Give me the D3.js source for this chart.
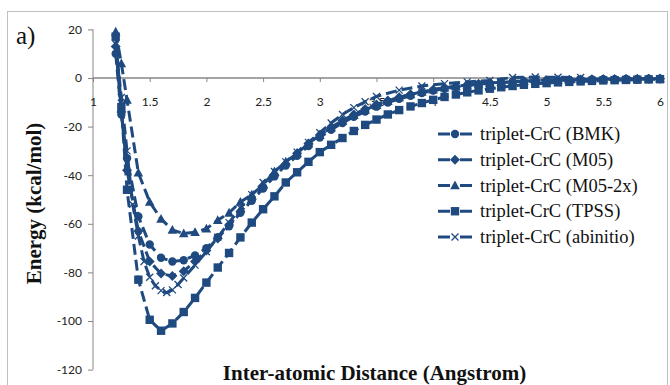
<!DOCTYPE html>
<html>
<head>
<meta charset="utf-8">
<script src="https://cdn.jsdelivr.net/npm/d3@7/dist/d3.min.js"></script>
<style>
  html, body { margin: 0; padding: 0; background: #fff; }
  svg { display: block; }
</style>
</head>
<body>
<svg id="chart" width="670" height="385"></svg>
<script>
// Inter-atomic distance grid (Angstrom) used by the DFT curves
const distance = [1.2, 1.25, 1.3, 1.4, 1.5, 1.6, 1.7, 1.8, 1.9, 2.0,
  2.1, 2.2, 2.3, 2.4, 2.5, 2.6, 2.7, 2.8, 2.9, 3.0,
  3.1, 3.2, 3.3, 3.4, 3.5, 3.6, 3.7, 3.8, 3.9, 4.0,
  4.1, 4.2, 4.3, 4.4, 4.5, 4.6, 4.7, 4.8, 4.9, 5.0,
  5.1, 5.2, 5.3, 5.4, 5.5, 5.6, 5.7, 5.8, 5.9, 6.0];

// Energies in kcal/mol
const bmk = [10, -15, -33, -57, -68.5, -74, -75.5, -75, -73, -70,
  -65.5, -61, -55.5, -50.5, -45.5, -40.5, -36, -32, -28, -24.5,
  -21.3, -18.5, -16, -13.8, -11.8, -10.1, -8.6, -7.3, -6.2, -5.2,
  -4.4, -3.7, -3.1, -2.6, -2.2, -1.9, -1.6, -1.4, -1.2, -1.0,
  -0.9, -0.8, -0.7, -0.6, -0.5, -0.5, -0.4, -0.4, -0.3, -0.3];

const m05 = [13, -14, -38, -63, -75.5, -80.5, -81.5, -79.5, -75.5, -71,
  -66, -60.5, -55, -50, -45, -40, -35.5, -31, -27, -23.5,
  -20.3, -17.5, -15, -12.8, -10.9, -9.3, -7.9, -6.7, -5.7, -4.8,
  -4.1, -3.5, -3, -2.5, -2.1, -1.8, -1.5, -1.3, -1.1, -1.0,
  -0.9, -0.8, -0.7, -0.6, -0.5, -0.5, -0.4, -0.4, -0.3, -0.3];

const m052x = [19, 6, -9, -39, -51, -58, -62.5, -64, -63.5, -62,
  -58.5, -55.5, -51, -48, -44, -38.5, -34.5, -31, -27, -23.5,
  -20.5, -17.8, -15.3, -13.1, -11.2, -9.5, -8, -6.8, -5.7, -4.8,
  -4, -3.4, -2.8, -2.4, -2, -1.7, -1.4, -1.2, -1, -0.9,
  -0.8, -0.7, -0.6, -0.5, -0.5, -0.4, -0.4, -0.3, -0.3, -0.2];

const tpss = [17, -12, -46, -83, -99.5, -104, -101, -96.3, -90.5, -84.2,
  -78, -72, -65.6, -59.5, -54, -48.7, -43, -38.8, -34.5, -30.5,
  -27.5, -24.7, -21.8, -19.3, -17.1, -15, -13.2, -11.7, -10.3, -9,
  -7.8, -6.8, -5.9, -5.1, -4.4, -3.8, -3.3, -2.8, -2.4, -2.1,
  -1.8, -1.6, -1.4, -1.2, -1.0, -0.9, -0.8, -0.7, -0.6, -0.5];

// Ab initio curve has its own distance grid
const abDistance = [1.2, 1.25, 1.3, 1.35, 1.4, 1.45, 1.5, 1.55, 1.6, 1.65,
  1.7, 1.75, 1.8, 1.9, 2.0, 2.1, 2.2, 2.3, 2.4, 2.5,
  2.6, 2.7, 2.8, 2.9, 3.0, 3.1, 3.2, 3.3, 3.4, 3.5,
  3.7, 3.9, 4.1, 4.3, 4.5, 4.7, 4.9, 5.1, 5.3];
const abinitio = [14, -8, -30, -52, -65, -75.5, -82, -85.5, -87.5, -88.3,
  -87.2, -85, -82.3, -77, -71.5, -65.5, -59.5, -53.5, -48, -43,
  -38.5, -34.5, -30.5, -26.5, -22.5, -18.5, -15, -12.2, -9.8, -7.6,
  -5, -3.3, -2.3, -1.6, -1, 0.2, 0.4, 0.3, 0.2];

const seriesNames = ["triplet-CrC (BMK)", "triplet-CrC (M05)", "triplet-CrC (M05-2x)",
  "triplet-CrC (TPSS)", "triplet-CrC (abinitio)"];
const markerKinds = ["circle", "diamond", "triangle", "square", "cross"];

const xTicks = [1, 1.5, 2, 2.5, 3, 3.5, 4, 4.5, 5, 5.5, 6];
const yTicks = [20, 0, -20, -40, -60, -80, -100, -120];

const series = [
  { name: seriesNames[0], marker: markerKinds[0], xs: distance, ys: bmk },
  { name: seriesNames[1], marker: markerKinds[1], xs: distance, ys: m05 },
  { name: seriesNames[2], marker: markerKinds[2], xs: distance, ys: m052x },
  { name: seriesNames[3], marker: markerKinds[3], xs: distance, ys: tpss },
  { name: seriesNames[4], marker: markerKinds[4], xs: abDistance, ys: abinitio }
];

const BLUE = "#1f4a80";
const AXIS = "#868686";
const SERIF = "'Liberation Serif', 'Times New Roman', serif";
const SANS = "Lato, 'Open Sans', sans-serif";

const svg = d3.select("#chart");
svg.append("rect").attr("width", 670).attr("height", 385).attr("fill", "#fff");

// chart frame
svg.append("rect")
  .attr("x", 7.5).attr("y", 11.5)
  .attr("width", 660).attr("height", 390)
  .attr("fill", "none").attr("stroke", "#bfbfbf").attr("stroke-width", 1);

const x = d3.scaleLinear().domain([1, 6]).range([93, 660]);
const y = d3.scaleLinear().domain([-120, 20]).range([369.6, 29.4]);

// y axis
const yAxis = svg.append("g")
  .attr("transform", `translate(${x(1)},0)`)
  .call(d3.axisLeft(y).tickValues(yTicks).tickSize(5).tickPadding(6)
    .tickFormat(d => String(d)));
yAxis.select(".domain").attr("stroke", AXIS).attr("d", `M0,${y(20)}V${y(-120)}`);
yAxis.selectAll(".tick line").attr("stroke", AXIS);
yAxis.selectAll(".tick text")
  .attr("font-family", SANS).attr("font-size", 12).attr("fill", "#222");

// x axis through y = 0
const xAxis = svg.append("g")
  .attr("transform", `translate(0,${y(0)})`)
  .call(d3.axisBottom(x).tickValues(xTicks).tickSize(4).tickPadding(15)
    .tickFormat(d => String(d)));
xAxis.select(".domain").attr("stroke", AXIS).attr("stroke-width", 1.5)
  .attr("d", `M${x(1)},0H${x(6)}`);
xAxis.selectAll(".tick line").attr("stroke", AXIS);
xAxis.selectAll(".tick text")
  .attr("font-family", SANS).attr("font-size", 12).attr("fill", "#222");

// marker drawing
function drawMarker(sel, kind) {
  if (kind === "circle") {
    sel.append("circle").attr("r", 4.2).attr("fill", BLUE);
  } else if (kind === "square") {
    sel.append("rect").attr("x", -4.2).attr("y", -4.2).attr("width", 8.4).attr("height", 8.4)
      .attr("fill", BLUE);
  } else if (kind === "diamond") {
    sel.append("path").attr("d", "M0,-5L5,0L0,5L-5,0Z").attr("fill", BLUE);
  } else if (kind === "triangle") {
    sel.append("path").attr("d", "M0,-5L4.8,3.8L-4.8,3.8Z").attr("fill", BLUE);
  } else if (kind === "cross") {
    sel.append("path").attr("d", "M-3.5,-3.5L3.5,3.5M-3.5,3.5L3.5,-3.5")
      .attr("stroke", BLUE).attr("stroke-width", 1.3).attr("fill", "none");
  }
}

const line = d3.line().x(d => x(d[0])).y(d => y(d[1]));

const plot = svg.append("g");
series.forEach(s => {
  const pts = s.xs.map((d, i) => [d, s.ys[i]]);
  const g = plot.append("g");
  g.append("path").datum(pts)
    .attr("d", line)
    .attr("fill", "none").attr("stroke", BLUE).attr("stroke-width", 3)
    .attr("stroke-dasharray", "11,5");
  g.selectAll("g.pt").data(pts).enter().append("g")
    .attr("class", "pt")
    .attr("transform", d => `translate(${x(d[0])},${y(d[1])})`)
    .each(function () { drawMarker(d3.select(this), s.marker); });
});

// legend
const legend = svg.append("g");
const legendY = d3.scalePoint().domain(seriesNames).range([134, 237]);
series.forEach(s => {
  const row = legend.append("g").attr("transform", `translate(0,${legendY(s.name)})`);
  row.append("line").attr("x1", 438).attr("x2", 450).attr("y1", 0).attr("y2", 0)
    .attr("stroke", BLUE).attr("stroke-width", 3);
  row.append("line").attr("x1", 460).attr("x2", 472).attr("y1", 0).attr("y2", 0)
    .attr("stroke", BLUE).attr("stroke-width", 3);
  const m = row.append("g").attr("transform", "translate(455,0)");
  drawMarker(m, s.marker);
  row.append("text").attr("x", 480).attr("y", 6)
    .attr("font-family", SERIF).attr("font-size", 18.5).attr("fill", "#111")
    .text(s.name);
});

// axis titles
svg.append("text")
  .attr("transform", `translate(41,${(y(20) + y(-120)) / 2 + 4}) rotate(-90)`)
  .attr("text-anchor", "middle")
  .attr("font-family", SERIF)
  .attr("font-weight", "bold").attr("font-size", 21).attr("fill", "#111")
  .text("Energy (kcal/mol)");

svg.append("text")
  .attr("x", (x(1) + x(6)) / 2 - 2).attr("y", 380)
  .attr("text-anchor", "middle")
  .attr("font-family", SERIF)
  .attr("font-weight", "bold").attr("font-size", 21).attr("fill", "#111")
  .text("Inter-atomic Distance (Angstrom)");

// panel label
svg.append("text")
  .attr("x", 16).attr("y", 44)
  .attr("font-family", SERIF)
  .attr("font-size", 25).attr("fill", "#111")
  .text("a)");
</script>
</body>
</html>
